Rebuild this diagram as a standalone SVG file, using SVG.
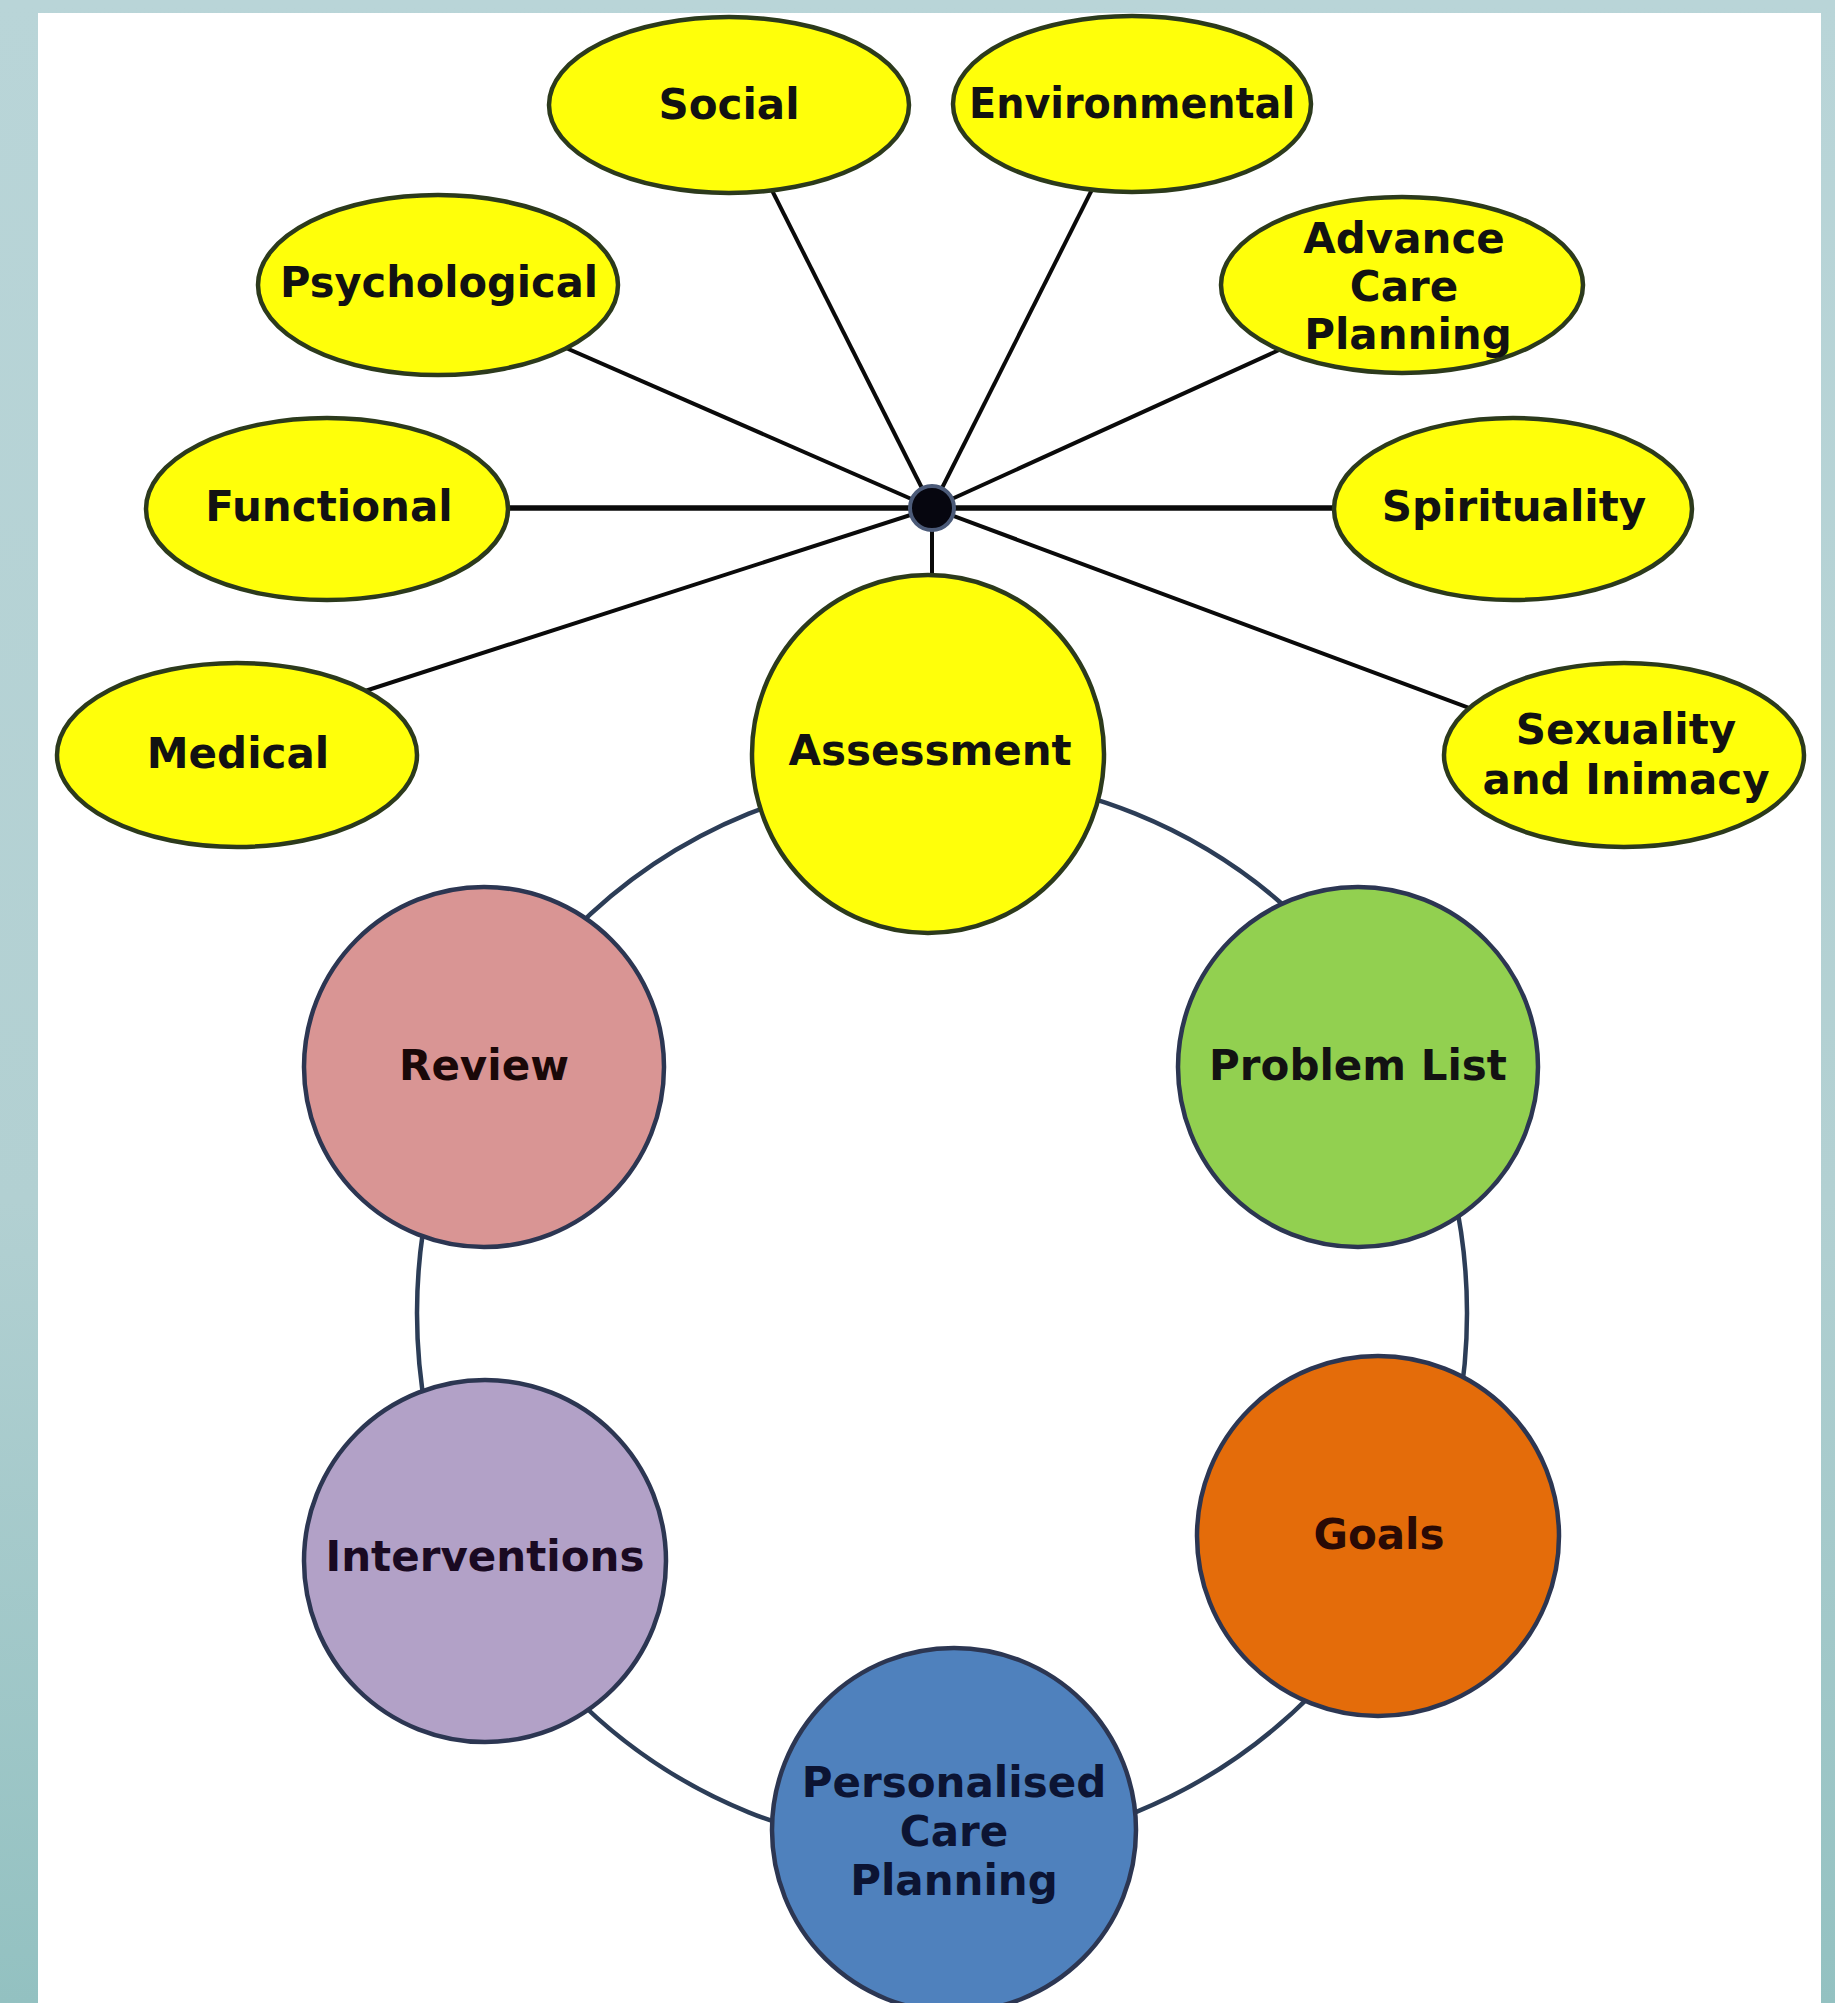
<svg xmlns="http://www.w3.org/2000/svg" width="1835" height="2003" viewBox="0 0 1835 2003">
  <defs>
    <linearGradient id="frameGrad" x1="0" y1="0" x2="0" y2="1">
      <stop offset="0" stop-color="#b9d5d8"/>
      <stop offset="0.6" stop-color="#b2d0d2"/>
      <stop offset="1" stop-color="#93c1c1"/>
    </linearGradient>
  </defs>
  <style>
    .aspect { fill: #ffff0a; stroke: #2c3a1c; stroke-width: 4.5; }
    .stage { stroke: #2c3652; stroke-width: 4.5; }
    .spoke { stroke: #0a0a0a; stroke-width: 4; fill: none; }
    .spoke-h { stroke: #0a0a0a; stroke-width: 5.5; fill: none; }
    .ring { fill: none; stroke: #2c3d57; stroke-width: 4.5; }
    .label { font-family: "DejaVu Sans", Verdana, sans-serif; font-weight: bold; font-size: 42px; fill: #121212; text-anchor: middle; }
  </style>

  <!-- backdrop: teal frame with a white panel -->
  <rect x="0" y="0" width="1835" height="2003" fill="url(#frameGrad)"/>
  <rect x="38" y="13" width="1783" height="1990" fill="#ffffff"/>

  <!-- connectors -->
  <g id="connectors">
    <ellipse class="ring" cx="942" cy="1313" rx="525" ry="537"/>
    <line class="spoke" x1="932" y1="508" x2="729" y2="105"/>
    <line class="spoke" x1="932" y1="508" x2="1135" y2="104"/>
    <line class="spoke" x1="932" y1="508" x2="438" y2="292"/>
    <line class="spoke" x1="932" y1="508" x2="1402" y2="294"/>
    <line class="spoke-h" x1="932" y1="508" x2="327" y2="508"/>
    <line class="spoke-h" x1="932" y1="508" x2="1513" y2="508"/>
    <line class="spoke" x1="932" y1="508" x2="300" y2="712"/>
    <line class="spoke" x1="932" y1="508" x2="1550" y2="738"/>
    <line class="spoke" x1="932" y1="508" x2="932" y2="640"/>
  </g>

  <!-- hub where the assessment areas meet -->
  <g id="hub">
    <circle cx="932" cy="508" r="22" fill="#06060f" stroke="#4b5a78" stroke-width="4"/>
  </g>

  <!-- assessment areas -->
  <g id="social">
    <ellipse class="aspect" cx="729" cy="105" rx="180" ry="88"/>
    <text class="label" x="729" y="119">Social</text>
  </g>
  <g id="environmental">
    <ellipse class="aspect" cx="1132" cy="104" rx="179" ry="88"/>
    <text class="label" x="1132" y="118" textLength="326" lengthAdjust="spacingAndGlyphs">Environmental</text>
  </g>
  <g id="psychological">
    <ellipse class="aspect" cx="438" cy="285" rx="180" ry="90"/>
    <text class="label" x="439" y="297" textLength="318" lengthAdjust="spacingAndGlyphs">Psychological</text>
  </g>
  <g id="advance-care-planning">
    <ellipse class="aspect" cx="1402" cy="285" rx="181" ry="88"/>
    <text class="label" x="1404" y="253">Advance</text>
    <text class="label" x="1404" y="301">Care</text>
    <text class="label" x="1408" y="349">Planning</text>
  </g>
  <g id="functional">
    <ellipse class="aspect" cx="327" cy="509" rx="181" ry="91"/>
    <text class="label" x="329" y="521">Functional</text>
  </g>
  <g id="spirituality">
    <ellipse class="aspect" cx="1513" cy="509" rx="179" ry="91"/>
    <text class="label" x="1514" y="521">Spirituality</text>
  </g>
  <g id="medical">
    <ellipse class="aspect" cx="237" cy="755" rx="180" ry="92"/>
    <text class="label" x="238" y="768">Medical</text>
  </g>
  <g id="sexuality-intimacy">
    <ellipse class="aspect" cx="1624" cy="755" rx="180" ry="92"/>
    <text class="label" x="1626" y="744">Sexuality</text>
    <text class="label" x="1626" y="794">and Inimacy</text>
  </g>

  <!-- care cycle -->
  <g id="assessment">
    <ellipse class="aspect" cx="928" cy="754" rx="176" ry="179"/>
    <text class="label" x="930" y="765">Assessment</text>
  </g>
  <g id="problem-list">
    <circle class="stage" cx="1358" cy="1067" r="180" fill="#92d050" stroke="#234a4a"/>
    <text class="label" x="1358" y="1080">Problem List</text>
  </g>
  <g id="goals">
    <ellipse class="stage" cx="1378" cy="1536" rx="181" ry="180" fill="#e46c0a" stroke="#3b3a48"/>
    <text class="label" x="1379" y="1549" style="fill:#2a0a05">Goals</text>
  </g>
  <g id="personalised-care-planning">
    <ellipse class="stage" cx="954" cy="1830" rx="182" ry="182" fill="#4f81bd" stroke="#2a3a5c"/>
    <text class="label" x="954" y="1797" style="fill:#0c1433">Personalised</text>
    <text class="label" x="954" y="1846" style="fill:#0c1433">Care</text>
    <text class="label" x="954" y="1895" style="fill:#0c1433">Planning</text>
  </g>
  <g id="interventions">
    <ellipse class="stage" cx="485" cy="1561" rx="181" ry="181" fill="#b2a1c7" stroke="#2f3a55"/>
    <text class="label" x="485" y="1571" style="fill:#1a0a22">Interventions</text>
  </g>
  <g id="review">
    <circle class="stage" cx="484" cy="1067" r="180" fill="#d99594" stroke="#2f3550"/>
    <text class="label" x="484" y="1080" style="fill:#1a0808">Review</text>
  </g>
</svg>
